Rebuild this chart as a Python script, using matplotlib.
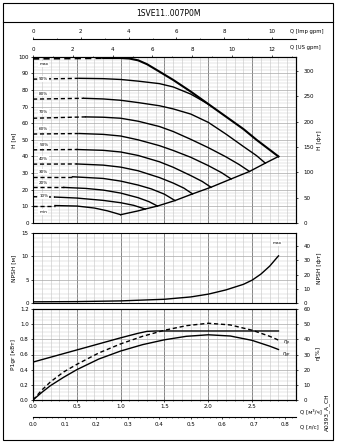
import matplotlib
matplotlib.use("Agg")
import matplotlib.pyplot as plt
from matplotlib.ticker import MultipleLocator, FormatStrFormatter, FixedLocator
from matplotlib.patches import Rectangle
from matplotlib.lines import Line2D

# pump curves for 1SVE11..007P0M, Q in m3/h
title = "1SVE11..007P0M"

speed_names = ["max", "90%", "80%", "70%", "60%", "50%", "40%", "30%", "20%", "10%", "min"]

q_max = [0, 0.4, 0.8, 1.0, 1.1, 1.2, 1.3, 1.443, 1.6, 1.8, 2.0, 2.2, 2.4, 2.55, 2.7, 2.8]
h_max = [98.8, 99, 99.2, 99.2, 98.9, 97.8, 95.5, 91, 86, 79, 71.5, 64, 56.5, 50, 44, 40]
q_90 = [0, 0.53, 0.8, 1.0, 1.2, 1.443, 1.6, 1.8, 2.0]
h_90 = [86.5, 87, 86.8, 86.3, 85.3, 83.8, 81.8, 77.5, 71.5]
q_80 = [0, 0.58, 0.8, 1.0, 1.2, 1.443, 1.6, 1.8, 2.0, 2.2, 2.4, 2.55, 2.65]
h_80 = [74.5, 75, 74.6, 73.8, 72.4, 70.5, 68.6, 65.5, 60.5, 53.5, 46, 40.5, 36]
q_70 = [0, 0.6, 0.8, 1.0, 1.2, 1.443, 1.6, 1.8, 2.0, 2.2, 2.35, 2.47]
h_70 = [63, 63.8, 63.6, 63, 61.2, 58, 55, 50.3, 45.3, 39.8, 35.2, 31]
q_60 = [0, 0.53, 0.8, 1.0, 1.2, 1.443, 1.6, 1.8, 2.0, 2.15, 2.26]
h_60 = [53.5, 53.8, 53.3, 52.3, 50, 46.5, 43.6, 39.5, 34.5, 30.3, 26.5]
q_50 = [0, 0.5, 0.8, 1.0, 1.2, 1.443, 1.6, 1.8, 1.93, 2.03]
h_50 = [44, 44.2, 43.7, 42.7, 40.6, 36.8, 33.5, 28.5, 25, 21.5]
q_40 = [0, 0.5, 0.8, 1.0, 1.2, 1.443, 1.6, 1.72, 1.82]
h_40 = [35.4, 35.5, 34.8, 33.6, 31.4, 27.3, 24, 21, 17.5]
q_30 = [0, 0.45, 0.8, 1.0, 1.2, 1.35, 1.5, 1.62]
h_30 = [27.8, 27.8, 26.8, 25.2, 22.8, 20.5, 17.3, 13.5]
q_20 = [0, 0.35, 0.6, 0.8, 1.0, 1.2, 1.32, 1.42]
h_20 = [21.4, 21.4, 20.8, 19.8, 18.0, 15.2, 12.9, 10.2]
q_10 = [0, 0.25, 0.5, 0.8, 1.0, 1.15, 1.28]
h_10 = [15.8, 15.6, 15, 13.6, 12.2, 10.6, 8.4]
q_min = [0, 0.25, 0.5, 0.7, 0.85, 1.0]
h_min = [10.5, 10.5, 10.2, 9.0, 7.3, 5.0]

# Q where the dashed part of each speed curve stops
dash_end = [0.8, 0.53, 0.58, 0.6, 0.53, 0.5, 0.5, 0.45, 0.35, 0.25, 0.25]

# lower limit line joining the ends of the speed curves
q_env = [1.0, 1.2, 1.28, 1.42, 1.62, 1.82, 2.03, 2.26, 2.47, 2.65, 2.8]
h_env = [5, 7.3, 8.4, 10.2, 13.5, 17.5, 21.5, 26.5, 31, 36, 40]

q_npsh = [0, 0.5, 1.0, 1.5, 1.8, 2.0, 2.2, 2.4, 2.5, 2.6, 2.7, 2.8]
npsh = [0.25, 0.3, 0.45, 0.8, 1.3, 1.9, 2.8, 4.0, 4.9, 6.2, 7.9, 10.1]

q_p1 = [0, 0.5, 1.0, 1.2, 1.3, 1.4, 2.0, 2.8]
p1 = [0.5, 0.66, 0.82, 0.88, 0.905, 0.91, 0.91, 0.91]

q_eta = [0, 0.1, 0.2, 0.35, 0.5, 0.75, 1.0, 1.25, 1.5, 1.75, 2.0, 2.25, 2.5, 2.7, 2.8]
eta_p = [0, 6.5, 12, 18.5, 23.5, 31, 37, 42, 46, 49, 50.6, 49.5, 46, 42, 39.5]
eta_gr = [0, 5, 9.5, 15, 20, 27, 32.3, 36.5, 39.7, 42, 43, 42.2, 39.3, 35.5, 33.3]

# tick values of the unit scales
us_gpm_ticks = [0, 2, 4, 6, 8, 10, 12]
imp_gpm_ticks = [0, 2, 4, 6, 8, 10]
ls_ticks = [0.0, 0.1, 0.2, 0.3, 0.4, 0.5, 0.6, 0.7, 0.8]

W, H = 337, 444
M_TO_FT = 3.2808
US_GPM = 0.2271247
IMP_GPM = 0.2727654

plt.rcParams['font.family'] = 'DejaVu Sans'
plt.rcParams['font.size'] = 4


def ax_rect(top, bottom):
    # axes box from pixel rows of the 337x444 sheet
    return [33 / W, 1 - bottom / H, 263 / W, (bottom - top) / H]


def ptext(fig, x, y, s, **kw):
    fig.text(x / W, 1 - y / H, s, **kw)


def style_grid(ax, ymajor, yminor):
    ax.set_xlim(0, 3.0)
    ax.xaxis.set_major_locator(MultipleLocator(0.5))
    ax.xaxis.set_minor_locator(MultipleLocator(0.1))
    ax.yaxis.set_major_locator(MultipleLocator(ymajor))
    ax.yaxis.set_minor_locator(MultipleLocator(yminor))
    ax.xaxis.grid(True, which='major', color='#707070', lw=0.6)
    ax.xaxis.grid(True, which='minor', color='#c4c4c4', lw=0.4)
    ax.yaxis.grid(True, which='major', color='#a8a8a8', lw=0.5)
    ax.yaxis.grid(True, which='minor', color='#cdcdcd', lw=0.35)
    ax.set_axisbelow(True)
    for s in ax.spines.values():
        s.set_linewidth(0.8)
    ax.tick_params(which='major', length=1.5, width=0.5, pad=1.5, labelsize=4)
    ax.tick_params(which='minor', length=0)


def unit_axis(sec, ticks, minor, fmt='%g'):
    # extra Q scale drawn as a separate line with its own ticks
    sec.xaxis.set_major_locator(FixedLocator(ticks))
    sec.xaxis.set_minor_locator(FixedLocator(minor))
    sec.xaxis.set_major_formatter(FormatStrFormatter(fmt))
    sec.tick_params(which='major', length=1.5, width=0.5, pad=2, labelsize=4)
    sec.tick_params(which='minor', length=1, width=0.4)
    for s in sec.spines.values():
        s.set_linewidth(0.8)


def plot_speed_curve(ax, q, h, q_dash, lw):
    i = q.index(q_dash)
    ax.plot(q[:i + 1], h[:i + 1], color='black', lw=lw, ls=(0, (3, 2)))
    ax.plot(q[i:], h[i:], color='black', lw=lw)


fig = plt.figure(figsize=(W / 100, H / 100), dpi=100)

# sheet frame and title box
fig.add_artist(Rectangle((3 / W, 1 - 440 / H), 330 / W, 437 / H, fill=False, lw=0.8,
                         transform=fig.transFigure))
fig.add_artist(Line2D([3 / W, 333 / W], [1 - 22 / H, 1 - 22 / H], color='black', lw=0.8,
                      transform=fig.transFigure))
ptext(fig, 168, 13, title, fontsize=5.5, ha='center', va='center')

# ---- head ----
ax_h = fig.add_axes(ax_rect(56.7, 223))
style_grid(ax_h, 10, 2)
ax_h.set_ylim(0, 100)
ax_h.tick_params(axis='x', which='both', length=0, labelbottom=False)

q_curves = [q_max, q_90, q_80, q_70, q_60, q_50, q_40, q_30, q_20, q_10, q_min]
h_curves = [h_max, h_90, h_80, h_70, h_60, h_50, h_40, h_30, h_20, h_10, h_min]
label_h = [95.6, 86.4, 77.8, 67, 56.6, 47, 38.6, 30.6, 24, 16.4, 6.6]
for name, q, h, qd, yl in zip(speed_names, q_curves, h_curves, dash_end, label_h):
    plot_speed_curve(ax_h, q, h, qd, 1.5 if name == "max" else 1.0)
    ax_h.text(0.07, yl, name, fontsize=3, va='center', ha='left',
              bbox=dict(facecolor='white', edgecolor='none', pad=0.6))
ax_h.plot(q_env, h_env, color='black', lw=1.0)

sec = ax_h.secondary_yaxis('right', functions=(lambda m: m * M_TO_FT, lambda f: f / M_TO_FT))
sec.yaxis.set_major_locator(FixedLocator([0, 50, 100, 150, 200, 250, 300]))
sec.tick_params(length=1.5, width=0.5, pad=4, labelsize=4)

top_us = ax_h.secondary_xaxis('top', functions=(lambda q: q / US_GPM, lambda g: g * US_GPM))
unit_axis(top_us, us_gpm_ticks, list(range(0, 14)))

top_imp = ax_h.secondary_xaxis(1 + 17.4 / 166.3, functions=(lambda q: q / IMP_GPM, lambda g: g * IMP_GPM))
unit_axis(top_imp, imp_gpm_ticks, list(range(0, 11)))

ptext(fig, 290, 31, "Q [Imp gpm]", fontsize=3.8, va='center')
ptext(fig, 290, 48, "Q [US gpm]", fontsize=3.8, va='center')
ptext(fig, 14, 140, "H [м]", fontsize=4.2, rotation=90, ha='center', va='center')
ptext(fig, 320, 140, "H [фт]", fontsize=4.2, rotation=90, ha='center', va='center')

# ---- NPSH ----
ax_n = fig.add_axes(ax_rect(233, 303))
style_grid(ax_n, 5, 1)
ax_n.set_ylim(0, 15)
ax_n.tick_params(axis='x', which='both', length=0, labelbottom=False)
ax_n.plot(q_npsh, npsh, color='black', lw=1.0)
ax_n.text(2.78, 12.8, "max", fontsize=3, ha='center', va='center',
          bbox=dict(facecolor='white', edgecolor='none', pad=0.6))
sec_n = ax_n.secondary_yaxis('right', functions=(lambda m: m * M_TO_FT, lambda f: f / M_TO_FT))
sec_n.yaxis.set_major_locator(FixedLocator([0, 10, 20, 30, 40]))
sec_n.tick_params(length=1.5, width=0.5, pad=4, labelsize=4)
ptext(fig, 14, 268, "NPSH [м]", fontsize=4.2, rotation=90, ha='center', va='center')
ptext(fig, 320, 268, "NPSH [фт]", fontsize=4.2, rotation=90, ha='center', va='center')

# ---- power / efficiency ----
ax_p = fig.add_axes(ax_rect(309, 400))
style_grid(ax_p, 0.2, 0.05)
ax_p.set_ylim(0, 1.2)
ax_p.yaxis.set_major_formatter(FormatStrFormatter('%.1f'))
ax_p.xaxis.set_major_formatter(FormatStrFormatter('%.1f'))
ax_p.tick_params(axis='x', which='minor', length=1, width=0.4)
ax_p.set_xticks([0, 0.5, 1.0, 1.5, 2.0, 2.5])
ax_p.plot(q_p1, p1, color='black', lw=1.0)

ax_e = ax_p.twinx()
ax_e.set_ylim(0, 60)
ax_e.set_xlim(0, 3.0)
ax_e.yaxis.set_major_locator(MultipleLocator(10))
ax_e.tick_params(length=1.5, width=0.5, pad=4, labelsize=4)
ax_e.plot(q_eta, eta_p, color='black', lw=1.0, ls=(0, (3, 2)))
ax_e.plot(q_eta, eta_gr, color='black', lw=1.0)
ax_e.text(2.89, 37.3, r"$\eta_p$", fontsize=3.5, ha='center', va='center')
ax_e.text(2.89, 29.4, r"$\eta_{gr}$", fontsize=3.5, ha='center', va='center')

bot_ls = ax_p.secondary_xaxis(-17.3 / 91, functions=(lambda q: q / 3.6, lambda l: l * 3.6))
unit_axis(bot_ls, ls_ticks, [i * 0.02 for i in range(0, 42)], fmt='%.1f')

ptext(fig, 300, 411, "Q [м³/ч]", fontsize=4, va='center')
ptext(fig, 300, 427, "Q [л/с]", fontsize=4, va='center')
ptext(fig, 14, 354, "P1gr [кВт]", fontsize=4.2, rotation=90, ha='center', va='center')
ptext(fig, 318, 353, "η[%]", fontsize=4.2, rotation=90, ha='center', va='center')
ptext(fig, 327, 412, "A0393_A_CH", fontsize=4.2, rotation=90, ha='center', va='center')

fig.savefig("out.png", dpi=100)
